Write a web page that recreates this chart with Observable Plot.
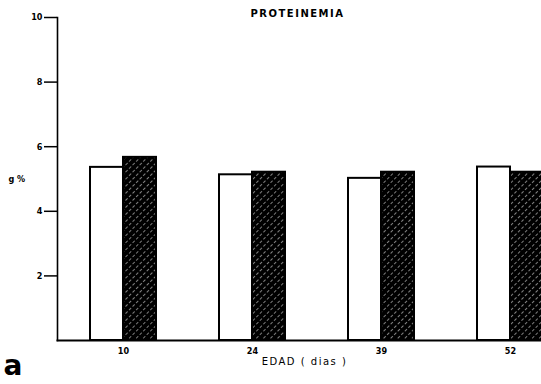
<!DOCTYPE html>
<html>
<head>
<meta charset="utf-8">
<script src="https://cdn.jsdelivr.net/npm/d3@7"></script>
<script src="https://cdn.jsdelivr.net/npm/@observablehq/plot@0.6"></script>
<style>
  html, body { margin: 0; padding: 0; background: #fff; }
  #chart { width: 541px; height: 384px; overflow: hidden; }
</style>
</head>
<body>
<div id="chart"></div>
<script>
const ages = ["10", "24", "39", "52"];
const control = [5.36, 5.13, 5.02, 5.37];
const treated = [5.67, 5.21, 5.21, 5.21];
const yTicks = [2, 4, 6, 8, 10];
const title = "PROTEINEMIA";
const yLabel = "g %";
const xLabel = "EDAD ( dias )";
const panel = "a";

const rowsC = ages.map((a, i) => ({age: a, value: control[i]}));
const rowsT = ages.map((a, i) => ({age: a, value: treated[i]}));

const font = "'DejaVu Sans Condensed', 'DejaVu Sans', sans-serif";

const plot = Plot.plot({
  width: 541,
  height: 384,
  marginTop: 17,
  marginBottom: 44,
  marginLeft: 57,
  marginRight: 0,
  style: {fontFamily: font, fontSize: "9px", fontWeight: "bold", color: "#000", background: "#fff", overflow: "visible"},
  x: {domain: ages, range: [88, 544], paddingInner: 0.49, paddingOuter: 0, align: 0.5, label: null},
  y: {domain: [0, 10], range: [340, 17], label: null},
  marks: [
    Plot.barY(rowsC, {x: "age", y: "value", fill: "#fff", stroke: "#000", strokeWidth: 2, insetRight: 33}),
    Plot.barY(rowsT, {x: "age", y: "value", fill: "url(#hatch)", stroke: "#000", strokeWidth: 2, insetLeft: 33}),
    Plot.frame({anchor: "bottom", stroke: "#000", strokeWidth: 2}),
    Plot.frame({anchor: "left", stroke: "#000", strokeWidth: 1.6}),
    Plot.axisY({ticks: yTicks, tickSize: 13, tickPadding: 2, label: null, fontSize: 9, strokeWidth: 1.5}),
    Plot.axisX({tickSize: 0, tickPadding: 7, label: null, fontSize: 9}),
    Plot.text([title], {frameAnchor: "top", lineAnchor: "bottom", dy: -1, dx: -2, fontSize: 10, fontWeight: "bold", fontFamily: "'DejaVu Sans', sans-serif"}),
    Plot.text([yLabel], {frameAnchor: "left", textAnchor: "start", dx: -49, fontSize: 9, fontWeight: "bold"}),
    Plot.text([xLabel], {frameAnchor: "bottom", lineAnchor: "top", dy: 17, dx: 5, fontSize: 10, fontWeight: "normal", fontFamily: "'DejaVu Sans', sans-serif"}),
    Plot.text([panel], {frameAnchor: "bottom-left", textAnchor: "start", lineAnchor: "middle", dx: -54, dy: 26, fontSize: 28, fontWeight: "bold", fontFamily: "'DejaVu Sans', sans-serif"})
  ]
});

// hatch pattern: black with white diagonal lines
const ns = "http://www.w3.org/2000/svg";
const defs = document.createElementNS(ns, "defs");
defs.innerHTML = `
  <pattern id="hatch" patternUnits="userSpaceOnUse" width="5" height="5" patternTransform="rotate(45)">
    <rect width="5" height="5" fill="#000"></rect>
    <line x1="0" y1="0" x2="0" y2="5" stroke="#fff" stroke-width="1" stroke-dasharray="3 2"></line>
  </pattern>`;
plot.insertBefore(defs, plot.firstChild);
plot.querySelectorAll("text").forEach(t => {
  if (t.textContent === title) t.setAttribute("letter-spacing", "1.5");
  if (t.textContent === xLabel) t.setAttribute("letter-spacing", "1.5");
});

document.getElementById("chart").appendChild(plot);
</script>
</body>
</html>
